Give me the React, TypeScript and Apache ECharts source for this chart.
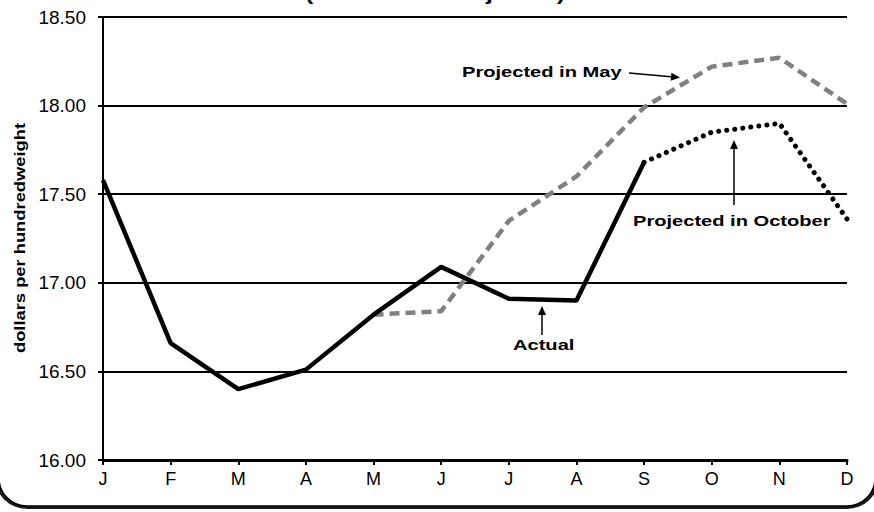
import React, { useEffect, useRef } from "react";
import * as echarts from "echarts";

const months = ["J", "F", "M", "A", "M", "J", "J", "A", "S", "O", "N", "D"];
const actual = [17.58, 16.66, 16.4, 16.51, 16.82, 17.09, 16.91, 16.9, 17.68, null, null, null];
const projectedMay = [null, null, null, null, 16.82, 16.84, 17.35, 17.6, 17.99, 18.22, 18.27, 18.01];
const projectedOct = [null, null, null, null, null, null, null, null, 17.68, 17.85, 17.9, 17.36];
const yMin = 16;
const yMax = 18.5;
const yStep = 0.5;

const FONT = "'Liberation Sans', Arial, Helvetica, sans-serif";

function label(text: string, x: number, y: number, align = "left") {
  return {
    type: "text",
    x,
    y,
    scaleX: 1.34,
    z: 20,
    style: {
      text,
      fill: "#000",
      font: `bold 15px ${FONT}`,
      textAlign: align,
      textVerticalAlign: "middle",
    },
  };
}

function arrow(x1: number, y1: number, x2: number, y2: number) {
  const dx = x2 - x1;
  const dy = y2 - y1;
  const len = Math.sqrt(dx * dx + dy * dy);
  const ux = dx / len;
  const uy = dy / len;
  const px = -uy;
  const py = ux;
  const hl = 9;
  const hw = 4;
  const bx = x2 - ux * hl;
  const by = y2 - uy * hl;
  return [
    {
      type: "line",
      z: 20,
      shape: { x1, y1, x2: bx, y2: by },
      style: { stroke: "#000", lineWidth: 1.5 },
    },
    {
      type: "polygon",
      z: 20,
      shape: {
        points: [
          [x2, y2],
          [bx + px * hw, by + py * hw],
          [bx - px * hw, by - py * hw],
        ],
      },
      style: { fill: "#000" },
    },
  ];
}

export default function App() {
  const ref = useRef<HTMLDivElement>(null);

  useEffect(() => {
    if (!ref.current) return;
    const chart = echarts.init(ref.current, null, { renderer: "svg" });
    const option: any = {
      animation: false,
      backgroundColor: "#fff",
      grid: { left: 103, right: 27, top: 17, bottom: 52, containLabel: false },
      xAxis: {
        type: "category",
        data: months,
        boundaryGap: false,
        axisLine: { show: true, lineStyle: { color: "#000", width: 3 } },
        axisTick: { show: true, length: 5, lineStyle: { color: "#000", width: 2 } },
        axisLabel: { color: "#000", fontSize: 18, fontFamily: FONT, margin: 10, interval: 0 },
        splitLine: { show: false },
      },
      yAxis: {
        type: "value",
        min: yMin,
        max: yMax,
        interval: yStep,
        axisLine: { show: true, lineStyle: { color: "#000", width: 2 } },
        axisTick: { show: true, length: 5, lineStyle: { color: "#000", width: 2 } },
        axisLabel: {
          color: "#000",
          fontSize: 19,
          fontFamily: FONT,
          margin: 17,
          formatter: (v: number) => v.toFixed(2),
        },
        splitLine: { show: true, lineStyle: { color: "#000", width: 2 } },
      },
      series: [
        {
          name: "Projected in May",
          type: "line",
          data: projectedMay,
          showSymbol: false,
          symbol: "none",
          connectNulls: false,
          lineStyle: { color: "#808080", width: 4.5, type: [10, 6] },
          z: 3,
        },
        {
          name: "Actual",
          type: "line",
          data: actual,
          showSymbol: false,
          symbol: "none",
          connectNulls: false,
          lineStyle: { color: "#000", width: 4.5 },
          z: 4,
        },
        {
          name: "Projected in October",
          type: "line",
          data: projectedOct,
          showSymbol: false,
          symbol: "none",
          connectNulls: false,
          lineStyle: { color: "#000", width: 5, type: [0.1, 8], cap: "round" },
          z: 4,
        },
      ],
      graphic: [
        {
          type: "rect",
          z: -10,
          silent: true,
          shape: { x: -5, y: -40, width: 884, height: 549, r: 32 },
          style: { fill: "#1a1a1a" },
        },
        {
          type: "rect",
          z: -9,
          silent: true,
          shape: { x: -1, y: -40, width: 876, height: 546, r: 28 },
          style: { fill: "#fff", stroke: "#000", lineWidth: 1.5 },
        },
        {
          type: "text",
          x: 435,
          y: 3,
          scaleX: 1.36,
          z: 20,
          style: {
            text: "(Actual and Projected)",
            fill: "#000",
            font: `bold 18px ${FONT}`,
            textAlign: "center",
            textVerticalAlign: "bottom",
          },
        },
        {
          type: "text",
          x: 20,
          y: 238,
          rotation: Math.PI / 2,
          scaleX: 1.31,
          z: 20,
          style: {
            text: "dollars per hundredweight",
            fill: "#000",
            font: `bold 14px ${FONT}`,
            textAlign: "center",
            textVerticalAlign: "middle",
          },
        },
        label("Projected in May", 462, 72),
        ...arrow(629, 73, 680, 77.5),
        label("Projected in October", 633, 221),
        ...arrow(734, 205, 734, 140),
        label("Actual", 513, 345),
        ...arrow(542, 335, 542, 306),
      ],
    };
    chart.setOption(option);
    return () => chart.dispose();
  }, []);

  return (
    <div
      ref={ref}
      style={{ position: "fixed", left: 0, top: 0, width: 874, height: 512, background: "#fff" }}
    />
  );
}
